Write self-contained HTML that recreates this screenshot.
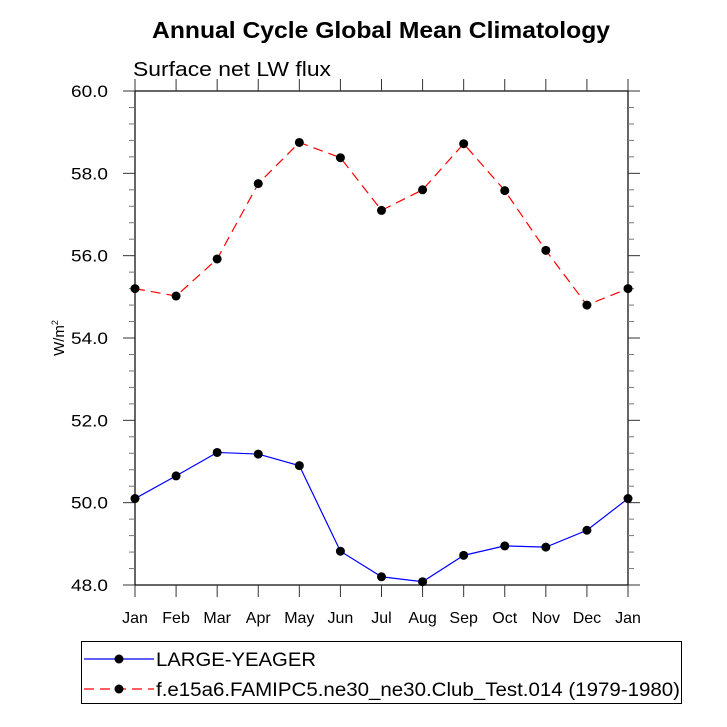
<!DOCTYPE html>
<html><head><meta charset="utf-8"><style>body{margin:0;background:#fff}svg{display:block;font-family:"Liberation Sans",sans-serif}</style></head>
<body>
<svg id="chart" width="727" height="727" viewBox="0 0 727 727" xmlns="http://www.w3.org/2000/svg">
<text x="152" y="38" font-size="23" font-weight="bold" textLength="458" lengthAdjust="spacingAndGlyphs">Annual Cycle Global Mean Climatology</text>
<text x="133" y="76" font-size="20" textLength="198" lengthAdjust="spacingAndGlyphs">Surface net LW flux</text>
<text transform="translate(64,338) rotate(-90)" font-size="15" text-anchor="middle">W/m<tspan font-size="9" dy="-6">2</tspan></text>
<g id="axes"></g>
<g id="series"></g>
<g>
<rect x="81.5" y="641.5" width="600" height="62" fill="none" stroke="#000" stroke-width="1"/>
<line x1="84" y1="659" x2="154" y2="659" stroke="#0000ff" stroke-width="1.2"/>
<circle cx="119" cy="659" r="4.5"/>
<text x="156" y="666" font-size="19" textLength="160" lengthAdjust="spacingAndGlyphs">LARGE-YEAGER</text>
<line x1="84" y1="689" x2="154" y2="689" stroke="#ff0000" stroke-width="1.2" stroke-dasharray="10,6"/>
<circle cx="119" cy="689" r="4.5"/>
<text x="156" y="696" font-size="19" textLength="524" lengthAdjust="spacingAndGlyphs">f.e15a6.FAMIPC5.ne30_ne30.Club_Test.014 (1979-1980)</text>
</g>
</svg>
<script>
const months = ["Jan","Feb","Mar","Apr","May","Jun","Jul","Aug","Sep","Oct","Nov","Dec","Jan"];
const obsValues = [50.1,50.65,51.22,51.18,50.9,48.82,48.2,48.08,48.72,48.95,48.92,49.33,50.1];
const modelValues = [55.2,55.02,55.92,57.75,58.75,58.38,57.1,57.6,58.72,57.58,56.13,54.8,55.2];
const yTickLabels = ["48.0","50.0","52.0","54.0","56.0","58.0","60.0"];
const yMin = 48, yMax = 60;
const L=135,R=628,T=91,B=585;
const NS="http://www.w3.org/2000/svg";
const xs=i=>L+(R-L)*i/(months.length-1);
const ys=v=>B-(B-T)*(v-yMin)/(yMax-yMin);
function mk(tag,attrs,parent){const e=document.createElementNS(NS,tag);for(const k in attrs)e.setAttribute(k,attrs[k]);parent.appendChild(e);return e;}
const ax=document.getElementById('axes');
const frame=mk('rect',{x:L,y:T,width:R-L,height:B-T,fill:'none',stroke:'#000','stroke-width':1.2},ax);


months.forEach((m,i)=>{
  const x=xs(i);
  const t1=mk('line',{x1:x,y1:B,x2:x,y2:B+12,stroke:'#333','stroke-width':1},ax);
  
  
  const t2=mk('line',{x1:x,y1:T,x2:x,y2:T-12,stroke:'#333','stroke-width':1},ax);
  
  
  const lb=mk('text',{x:x,y:B+38,'font-size':16,'text-anchor':'middle'},ax);
  lb.textContent=m;
  
  
});
for(let k=0;k<=30;k++){
  const v=yMin+k*0.4, y=ys(v), major=k%5===0, len=major?12:6;
  const a=mk('line',{x1:L,y1:y,x2:L-len,y2:y,stroke:major?'#333':'#777','stroke-width':1},ax);
  
  
  const b=mk('line',{x1:R,y1:y,x2:R+len,y2:y,stroke:major?'#333':'#777','stroke-width':1},ax);
  
  
}
yTickLabels.forEach((s,i)=>{
  const lb=mk('text',{x:L-27,y:ys(parseFloat(s))+6,'font-size':17,'text-anchor':'end',textLength:37,lengthAdjust:'spacingAndGlyphs'},ax);
  lb.textContent=s;
  
  
});
const sg=document.getElementById('series');
function drawSeries(vals,color,dash,name){
  const pts=vals.map((v,i)=>xs(i)+','+ys(v)).join(' ');
  const pl=mk('polyline',{points:pts,fill:'none',stroke:color,'stroke-width':1.2,'stroke-dasharray':dash},sg);
  
  
  vals.forEach((v,i)=>{
    const c=mk('circle',{cx:xs(i),cy:ys(v),r:4.5,fill:'#000'},sg);
    
    
  });
}
drawSeries(modelValues,'#ff0000','10,6','model');
drawSeries(obsValues,'#0000ff','none','large-yeager');
</script>
</body></html>
